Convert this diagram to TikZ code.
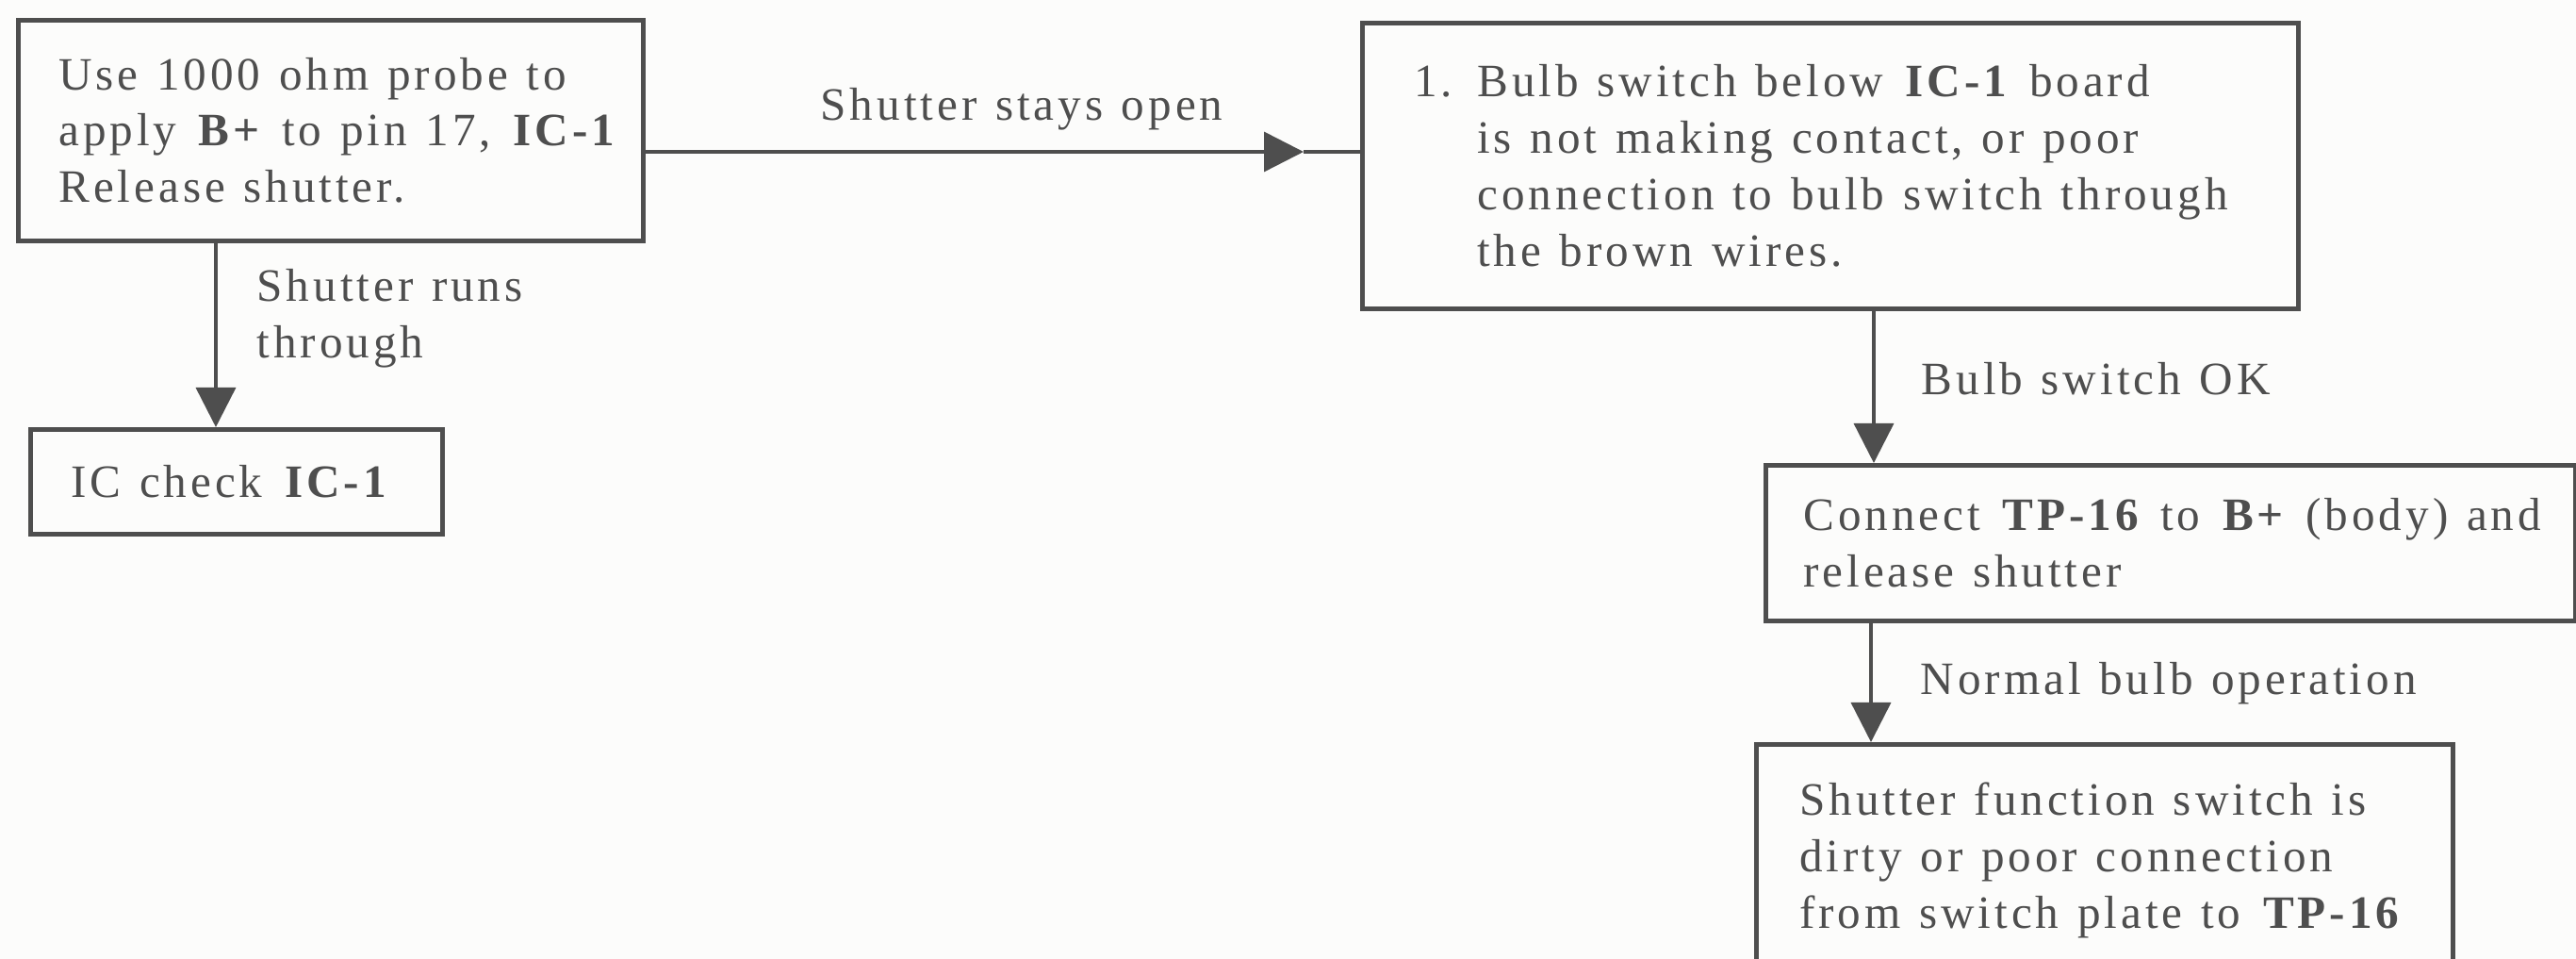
\documentclass[tikz,border=0pt]{standalone}
\usepackage{fontspec}
\setmainfont{Liberation Serif}[LetterSpace=8]
\usetikzlibrary{arrows.meta}
\definecolor{ink}{RGB}{78,78,78}
\definecolor{paper}{RGB}{252,252,251}
\newcommand\chartfont{\fontsize{14}{17.07}\selectfont}
\newcommand\row[1]{\mbox{\spaceskip=0.4em\relax #1}}
\newlength\numwd
\setlength\numwd{0.67cm}
\tikzset{
  box/.style={draw=ink, line width=1.3pt, anchor=north west, align=left, inner xsep=0.43cm, inner ysep=0pt},
  flow/.style={draw=ink, line width=1pt, -{Triangle[length=0.42cm,width=0.42cm]}},
  wire/.style={draw=ink, line width=1pt},
  lbl/.style={anchor=base west, inner sep=0pt, align=left},
}
\begin{document}
\begin{tikzpicture}[font=\chartfont, text=ink]
  \fill[paper] (0,0) rectangle (27.33,-10.17);
  \useasboundingbox (0,0) rectangle (27.33,-10.17);
  % boxes
  \node[box, minimum width=6.63cm, minimum height=2.34cm, text width=5.77cm] (nA) at (0.17,-0.19)
    {\row{Use 1000 ohm probe to}\\ \row{apply \textbf{B+} to pin 17, \textbf{IC-1}}\\ \row{Release shutter.}};
  \node[box, minimum width=4.37cm, minimum height=1.11cm, text width=3.51cm] (nIC) at (0.30,-4.53)
    {\row{IC check \textbf{IC-1}}};
  \node[box, inner xsep=0.55cm, minimum width=9.93cm, minimum height=3.03cm, text width=8.83cm] (nC) at (14.43,-0.22)
    {\row{\makebox[\numwd][l]{1.}Bulb switch below \textbf{IC-1} board}\\
     \row{\hspace*{\numwd}is not making contact, or poor}\\
     \row{\hspace*{\numwd}connection to bulb switch through}\\
     \row{\hspace*{\numwd}the brown wires.}};
  \node[box, inner xsep=0.40cm, minimum width=8.59cm, minimum height=1.65cm, text width=7.79cm] (nD) at (18.71,-4.91)
    {\row{Connect \textbf{TP-16} to \textbf{B+} (body) and}\\ \row{release shutter}};
  \node[box, inner xsep=0.46cm, minimum width=7.39cm, minimum height=2.46cm, text width=6.47cm] (nE) at (18.61,-7.87)
    {\row{Shutter function switch is}\\ \row{dirty or poor connection}\\ \row{from switch plate to \textbf{TP-16}}};
  % labels
  \node[lbl] (lOpen) at (8.70,-1.28) {\row{Shutter stays open}};
  \node[lbl, anchor=north west] (lRuns) at (2.72,-2.85) {\row{Shutter runs}\\ \row{through}};
  \node[lbl] (lOK) at (20.38,-4.19) {\row{Bulb switch OK}};
  \node[lbl] (lNormal) at (20.37,-7.37) {\row{Normal bulb operation}};
  % connectors
  \coordinate (tAC) at (13.83,-1.61);
  \coordinate (xAIC) at (2.29,0);
  \coordinate (xCD) at (19.88,0);
  \coordinate (xDE) at (19.85,0);
  \draw[flow] (nA.east |- tAC) -- (tAC);
  \draw[wire] (tAC) -- (nC.west |- tAC);
  \draw[flow] (nA.south -| xAIC) -- (nIC.north -| xAIC);
  \draw[flow] (nC.south -| xCD) -- (nD.north -| xCD);
  \draw[flow] (nD.south -| xDE) -- (nE.north -| xDE);
\end{tikzpicture}
\end{document}
